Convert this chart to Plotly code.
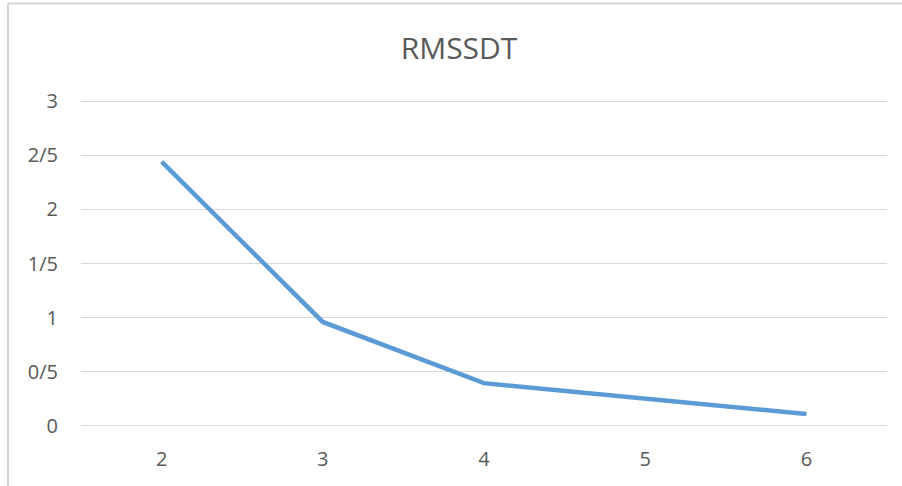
import plotly.graph_objects as go

categories = ["2", "3", "4", "5", "6"]
values = [2.44, 0.96, 0.395, 0.255, 0.11]
y_tick_vals = [0, 0.5, 1, 1.5, 2, 2.5, 3]
y_tick_text = ["0", "0/5", "1", "1/5", "2", "2/5", "3"]

fig = go.Figure()
fig.add_trace(go.Scatter(
    x=categories, y=values, mode="lines",
    line=dict(color="#5b9bd5", width=4.5),
    hoverinfo="skip", showlegend=False,
))

font_family = "Open Sans, Liberation Sans, sans-serif"
border = dict(color="#d4d4d4", width=2)
fig.update_layout(
    width=902, height=486,
    margin=dict(l=81, r=15, t=100, b=59),
    paper_bgcolor="white", plot_bgcolor="white",
    title=dict(text="RMSSDT", x=459 / 902, xanchor="center", y=1 - 48 / 486, yanchor="middle",
               font=dict(family=font_family, size=30, color="#595959")),
    font=dict(family=font_family, color="#595959", size=20),
    xaxis=dict(type="category", range=[-0.5, 4.5], showgrid=False, zeroline=False,
               showline=False, ticks="", ticklabelstandoff=18,
               tickfont=dict(size=20, color="#595959")),
    yaxis=dict(range=[-0.01, 3.01], tickvals=y_tick_vals, ticktext=y_tick_text,
               showgrid=True, gridcolor="#d9d9d9", gridwidth=1.3, zeroline=False,
               showline=False, ticks="", ticklabelstandoff=22,
               tickfont=dict(size=20, color="#595959")),
    shapes=[
        dict(type="line", xref="paper", yref="paper",
             x0=-73 / 806, x1=1.05, y0=1 + 96.5 / 327, y1=1 + 96.5 / 327,
             line=border, layer="above"),
        dict(type="line", xref="paper", yref="paper",
             x0=-73 / 806, x1=-73 / 806, y0=-0.3, y1=1 + 96.5 / 327,
             line=border, layer="above"),
    ],
)

fig.write_html("out.html", config={"displayModeBar": False},
               post_script="document.body.style.margin='0';")
